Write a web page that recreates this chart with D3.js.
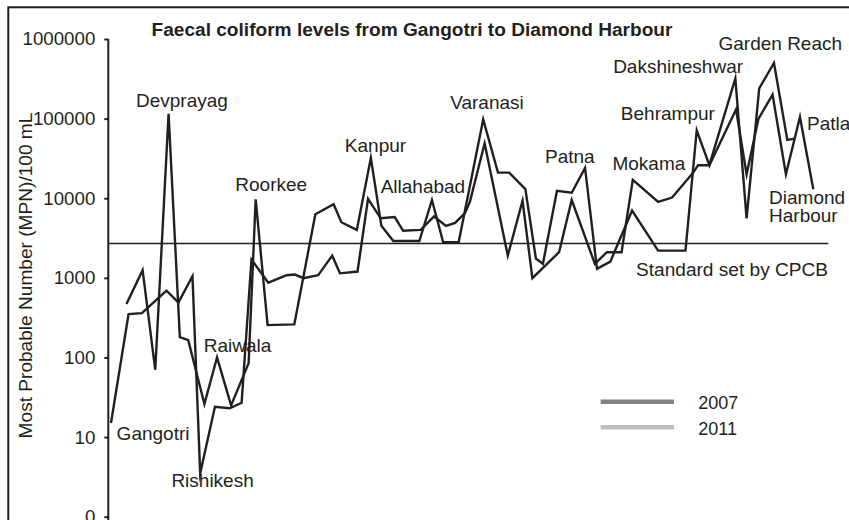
<!DOCTYPE html>
<html>
<head>
<meta charset="utf-8">
<script src="https://cdn.jsdelivr.net/npm/d3@7"></script>
<style>
  html, body { margin: 0; padding: 0; background: #fff; }
  svg { display: block; font-family: "Liberation Sans", Arial, Helvetica, sans-serif; }
</style>
</head>
<body>
<svg id="chart" width="849" height="520"></svg>
<script>
// Faecal coliform (MPN/100 mL) along the Ganga, position as a 0–100 river index
const pos2007 = [0, 2.5, 4.4, 7.9, 9.6, 11.6, 12.7, 14.8, 16.9, 18.6, 20.0, 22.4, 25.0, 26.2, 27.4, 29.5, 31.5, 32.6, 35.1, 36.6,
  38.4, 40.4, 41.6, 44.1, 46.0, 47.7, 49.0, 50.4, 51.1, 53.2, 56.5, 58.6, 60.0, 63.8, 65.6, 68.9, 70.6, 72.7, 74.3, 77.9,
  79.9, 82.9, 83.6, 85.2, 89.0, 90.5, 92.2, 94.2, 96.1, 98.1, 100];
const fc2007 = [15, 350, 360, 690, 490, 1050, 3.5, 24, 23, 27, 1700, 870, 1080, 1100, 990, 1080, 1900, 1140, 1200, 9800,
  5600, 5800, 3900, 4000, 5900, 4500, 4900, 6500, 9000, 49000, 1900, 9300, 990, 2100, 9500, 1500, 2100, 2100, 17000, 9000,
  10200, 21000, 26000, 26000, 130000, 20000, 100000, 200000, 20000, 105000, 13000];

const pos2011 = [2.2, 4.5, 6.3, 8.2, 9.8, 11.0, 13.3, 15.1, 17.1, 19.6, 20.6, 22.3, 26.1, 29.1, 31.7, 32.8, 35.0, 37.0, 38.5, 40.2,
  43.9, 45.7, 47.3, 49.5, 53.0, 55.1, 56.7, 59.0, 60.5, 61.5, 63.5, 65.6, 67.5, 69.2, 71.1, 74.2, 77.9, 81.8, 83.4, 85.2,
  88.9, 90.5, 92.3, 94.4, 96.3, 97.4];
const fc2011 = [470, 1250, 70, 115000, 180, 165, 26, 100, 25, 85, 9700, 255, 260, 6300, 8400, 5000, 4000, 32000, 4500, 2900,
  2900, 9500, 2800, 2800, 98000, 21000, 21000, 13000, 1750, 1500, 12400, 11700, 24000, 1300, 1600, 7000, 2200, 2200, 71000, 26000,
  320000, 5600, 240000, 500000, 54000, 56000];

const cpcbStandard = 2700;
const yTicks = [1, 10, 100, 1000, 10000, 100000, 1000000];

// station names, anchored in data space (river index, MPN)
const stationNames = ["Gangotri", "Devprayag", "Rishikesh", "Raiwala", "Roorkee", "Kanpur", "Allahabad", "Varanasi",
  "Patna", "Mokama", "Behrampur", "Dakshineshwar", "Garden Reach", "Patla", "Diamond|Harbour"];
const stationPos = [0.8, 10.1, 8.6, 13.2, 17.7, 33.3, 38.4, 48.3, 61.8, 71.4, 72.6, 71.5, 86.5, 99.1, 93.7];
const stationVal = [9.2, 141000, 2.33, 118, 12400, 38400, 11700, 131000, 27900, 22600, 96000, 377000, 727000, 71900, 8380];
const stationAnchor = ["start", "middle", "start", "start", "start", "start", "start", "start", "start", "start", "start",
  "start", "start", "start", "start"];

const legendYears = ["2007", "2011"];
const legendColors = ["#808285", "#bcbec0"];

const ink = "#231f20";
const svg = d3.select("#chart");

const x = d3.scaleLinear().domain([0, 100]).range([111, 813.3]);
const y = d3.scaleLog().domain([1, 1000000]).range([516.7, 39]);

// outer frame
svg.append("rect")
  .attr("x", 8.3).attr("y", 7.3).attr("width", 900).attr("height", 600)
  .attr("fill", "none").attr("stroke", ink).attr("stroke-width", 2);

// title
svg.append("text")
  .attr("x", 151.5).attr("y", 36)
  .attr("font-size", 19.1).attr("font-weight", "bold").attr("fill", ink)
  .text("Faecal coliform levels from Gangotri to Diamond Harbour");

// y axis
const yAxis = d3.axisLeft(y)
  .tickValues(yTicks)
  .tickSize(4)
  .tickPadding(9)
  .tickFormat(d => d === 1 ? "0" : d3.format("d")(d));
const gy = svg.append("g").attr("transform", "translate(108.3,0)").call(yAxis);
gy.select(".domain").remove();
gy.append("line").attr("x1", 0).attr("x2", 0).attr("y1", 39).attr("y2", 522)
  .attr("stroke", ink).attr("stroke-width", 2);
gy.selectAll(".tick line").attr("stroke", ink).attr("stroke-width", 2);
gy.selectAll(".tick text").attr("fill", ink).attr("font-size", 18.7)
  .attr("font-family", "\"Liberation Sans\", Arial, sans-serif");

// y axis title
svg.append("text")
  .attr("transform", "translate(32,275.5) rotate(-90)")
  .attr("text-anchor", "middle")
  .attr("font-size", 19.1).attr("fill", ink)
  .text("Most Probable Number (MPN)/100 mL");

// CPCB standard
svg.append("line")
  .attr("x1", 108.3).attr("x2", 828.3)
  .attr("y1", y(cpcbStandard)).attr("y2", y(cpcbStandard))
  .attr("stroke", ink).attr("stroke-width", 1.3);
svg.append("text")
  .attr("x", 636).attr("y", 276)
  .attr("font-size", 19.1).attr("fill", ink)
  .text("Standard set by CPCB");

// series lines
const line = d3.line().x(d => x(d[0])).y(d => y(d[1]));
const series = [
  d3.zip(pos2007, fc2007),
  d3.zip(pos2011, fc2011)
];
svg.append("g").selectAll("path").data(series).join("path")
  .attr("d", line)
  .attr("fill", "none")
  .attr("stroke", ink)
  .attr("stroke-width", 2.4)
  .attr("stroke-linejoin", "miter")
  .attr("stroke-miterlimit", 10);

// station labels
const labels = svg.append("g").attr("font-size", 19).attr("fill", ink);
stationNames.forEach((name, i) => {
  const t = labels.append("text")
    .attr("x", x(stationPos[i]))
    .attr("y", y(stationVal[i]))
    .attr("text-anchor", stationAnchor[i]);
  name.split("|").forEach((part, k) => {
    t.append("tspan").attr("x", x(stationPos[i])).attr("dy", k === 0 ? 0 : 17.4).text(part);
  });
});

// legend
const legend = svg.append("g");
legendYears.forEach((yr, i) => {
  const ly = 401.7 + i * 25.6;
  legend.append("line")
    .attr("x1", 600.7).attr("x2", 674).attr("y1", ly).attr("y2", ly)
    .attr("stroke", legendColors[i]).attr("stroke-width", 4.6);
  legend.append("text")
    .attr("x", 698.3).attr("y", ly + 7.3)
    .attr("font-size", 18).attr("fill", ink)
    .text(yr);
});
</script>
</body>
</html>
